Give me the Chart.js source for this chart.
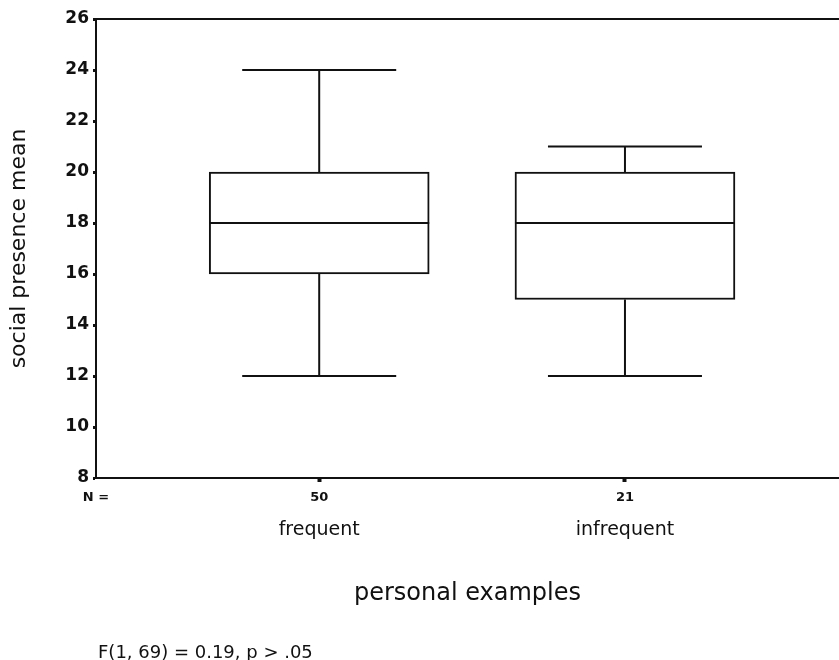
<!DOCTYPE html>
<html>
<head>
<meta charset="utf-8">
<script src="https://cdn.jsdelivr.net/npm/chart.js@4"></script>
<style>
  html, body { margin: 0; padding: 0; background: #fff; }
  #wrap { width: 839px; height: 660px; }
</style>
</head>
<body>
<div id="wrap"><canvas id="chart"></canvas></div>
<script>
const categories = ['frequent', 'infrequent'];
const counts     = [50, 21];
const mins       = [12, 12];
const q1s        = [16, 15];
const medians    = [18, 18];
const q3s        = [20, 20];
const maxs       = [24, 21];
const yTicks     = [8, 10, 12, 14, 16, 18, 20, 22, 24, 26];
const note       = 'F(1, 69) = 0.19, p > .05';

const ink = '#111';
const FONT = '"DejaVu Sans", Verdana, sans-serif';
const X_MIN = 0.27, X_MAX = 2.70;

// whiskers, medians, top frame line and the note under the chart
const boxExtras = {
  id: 'boxExtras',
  afterDatasetsDraw(chart) {
    const { ctx, chartArea, scales } = chart;
    const y = scales.y;
    const bars = chart.getDatasetMeta(0).data;
    ctx.save();
    ctx.strokeStyle = ink;
    ctx.lineWidth = 2;
    const line = (x1, y1, x2, y2) => {
      ctx.beginPath(); ctx.moveTo(x1, y1); ctx.lineTo(x2, y2); ctx.stroke();
    };
    bars.forEach((bar, i) => {
      const half = bar.width / 2;
      const cap = half * 0.7;
      line(bar.x - half, y.getPixelForValue(medians[i]), bar.x + half, y.getPixelForValue(medians[i]));
      line(bar.x, y.getPixelForValue(q3s[i]), bar.x, y.getPixelForValue(maxs[i]));
      line(bar.x, y.getPixelForValue(q1s[i]), bar.x, y.getPixelForValue(mins[i]));
      line(bar.x - cap, y.getPixelForValue(maxs[i]), bar.x + cap, y.getPixelForValue(maxs[i]));
      line(bar.x - cap, y.getPixelForValue(mins[i]), bar.x + cap, y.getPixelForValue(mins[i]));
    });
    line(chartArea.left, chartArea.top, chartArea.right, chartArea.top);

    ctx.fillStyle = ink;
    ctx.font = '18px ' + FONT;
    ctx.textBaseline = 'middle';
    ctx.textAlign = 'left';
    ctx.fillText(note, 98, 653);
    ctx.restore();
  }
};

new Chart(document.getElementById('chart'), {
  type: 'bar',
  data: {
    datasets: [{
      data: categories.map((c, i) => ({ x: i + 1, y: [q1s[i], q3s[i]] })),
      backgroundColor: '#fff',
      borderColor: ink,
      borderWidth: 2,
      borderSkipped: false,
      barThickness: 220,
    }],
  },
  options: {
    responsive: true,
    maintainAspectRatio: false,
    animation: false,
    layout: { padding: { top: 19, right: 0, left: 0, bottom: 0 } },
    plugins: {
      legend:  { display: false },
      tooltip: { enabled: false },
    },
    scales: {
      x: {
        type: 'linear',
        position: 'bottom',
        weight: 1,
        offset: false,
        min: X_MIN,
        max: X_MAX,
        afterBuildTicks: s => { s.ticks = [X_MIN, 1, 2].map(v => ({ value: v })); },
        afterFit: s => { s.height = 33; },
        ticks: {
          color: ink,
          font: { family: FONT, size: 13, weight: 'bold' },
          padding: 8,
          maxRotation: 0,
          autoSkip: false,
          callback: (v, i) => i === 0 ? 'N =' : String(counts[i - 1]),
        },
        border: { color: ink, width: 2 },
        grid: {
          offset: false,
          drawOnChartArea: false,
          tickLength: 4,
          tickWidth: 4,
          tickColor: ctx => ctx.index === 0 ? 'rgba(0,0,0,0)' : ink,
        },
      },
      names: {
        type: 'linear',
        position: 'bottom',
        weight: 2,
        offset: false,
        min: X_MIN,
        max: X_MAX,
        afterBuildTicks: s => { s.ticks = [1, 2].map(v => ({ value: v })); },
        afterFit: s => { s.height = 149; },
        ticks: {
          color: ink,
          font: { family: FONT, size: 19 },
          padding: 0,
          maxRotation: 0,
          autoSkip: false,
          callback: (v, i) => categories[i],
        },
        border: { display: false },
        grid: { display: false, offset: false },
        title: {
          display: true,
          text: 'personal examples',
          color: ink,
          font: { family: FONT, size: 24 },
          padding: { top: 0, bottom: 52 },
        },
      },
      y: {
        min: 8,
        max: 26,
        afterBuildTicks: s => { s.ticks = yTicks.map(v => ({ value: v })); },
        afterFit: s => { s.width = 96; },
        ticks: {
          color: ink,
          font: { family: FONT, size: 17, weight: 'bold' },
          padding: 4,
        },
        border: { color: ink, width: 2 },
        grid: {
          drawOnChartArea: false,
          tickLength: 3,
          tickWidth: 3,
          tickColor: ink,
        },
        title: {
          display: true,
          text: 'social presence mean',
          color: ink,
          font: { family: FONT, size: 22 },
          padding: { top: 6, bottom: 0 },
        },
      },
    },
  },
  plugins: [boxExtras],
});
</script>
</body>
</html>
